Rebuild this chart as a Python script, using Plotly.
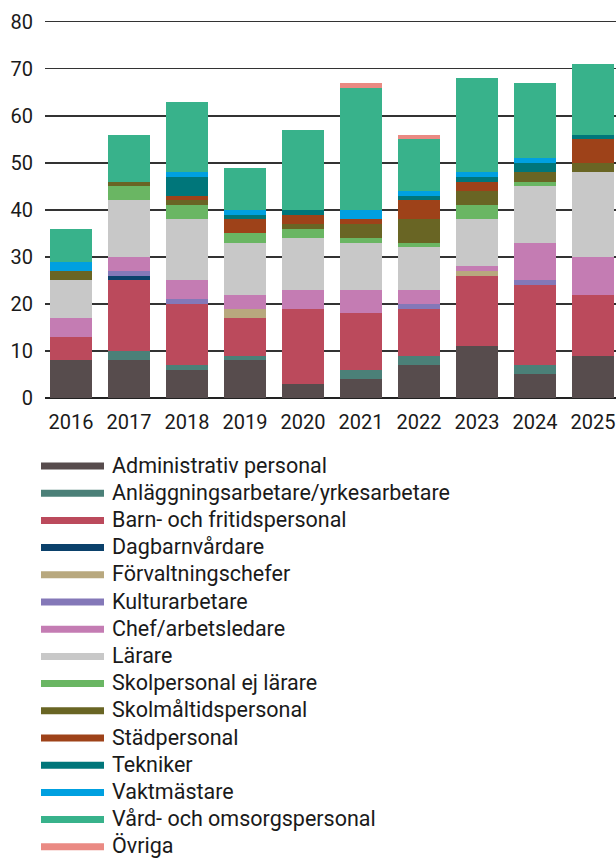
import plotly.graph_objects as go

years = ["2016", "2017", "2018", "2019", "2020", "2021", "2022", "2023", "2024", "2025"]

series_names = [
    "Administrativ personal",
    "Anläggningsarbetare/yrkesarbetare",
    "Barn- och fritidspersonal",
    "Dagbarnvårdare",
    "Förvaltningschefer",
    "Kulturarbetare",
    "Chef/arbetsledare",
    "Lärare",
    "Skolpersonal ej lärare",
    "Skolmåltidspersonal",
    "Städpersonal",
    "Tekniker",
    "Vaktmästare",
    "Vård- och omsorgspersonal",
    "Övriga",
]

administrativ = [8, 8, 6, 8, 3, 4, 7, 11, 5, 9]
anlaggning    = [0, 2, 1, 1, 0, 2, 2, 0, 2, 0]
barn_fritid   = [5, 15, 13, 8, 16, 12, 10, 15, 17, 13]
dagbarn       = [0, 1, 0, 0, 0, 0, 0, 0, 0, 0]
forvaltning   = [0, 0, 0, 2, 0, 0, 0, 1, 0, 0]
kultur        = [0, 1, 1, 0, 0, 0, 1, 0, 1, 0]
chef          = [4, 3, 4, 3, 4, 5, 3, 1, 8, 8]
larare        = [8, 12, 13, 11, 11, 10, 9, 10, 12, 18]
skolpersonal  = [0, 3, 3, 2, 2, 1, 1, 3, 1, 0]
skolmaltid    = [2, 1, 1, 0, 1, 3, 5, 3, 2, 2]
stad          = [0, 0, 1, 3, 2, 1, 4, 2, 0, 5]
tekniker      = [0, 0, 4, 1, 1, 0, 1, 1, 2, 1]
vaktmastare   = [2, 0, 1, 1, 0, 2, 1, 1, 1, 0]
vard_omsorg   = [7, 10, 15, 9, 17, 26, 11, 20, 16, 15]
ovriga        = [0, 0, 0, 0, 0, 1, 1, 0, 0, 0]

series_values = [administrativ, anlaggning, barn_fritid, dagbarn, forvaltning, kultur, chef,
                 larare, skolpersonal, skolmaltid, stad, tekniker, vaktmastare, vard_omsorg, ovriga]

colors = ["#574c4d", "#4b8078", "#bb4a5c", "#0b416b", "#b8a87e", "#8478b8", "#c47cb3",
          "#c8c8c8", "#6ab663", "#696524", "#9e4219", "#00767a", "#00a0e0", "#38b28b", "#ea8a83"]

y_ticks = [0, 10, 20, 30, 40, 50, 60, 70, 80]

FONT = "Roboto, 'Noto Sans', sans-serif"
TXT = "#1a1a1a"

fig = go.Figure()
for name, vals, col in zip(series_names, series_values, colors):
    fig.add_trace(go.Bar(x=years, y=vals, name=name, marker=dict(color=col, line=dict(width=0)),
                         showlegend=False, hoverinfo="skip"))

W, H = 616, 859
ML, MT, MB = 45, 17, 461
plot_w = W - ML
plot_h = H - MT - MB

def px_to_py(p):
    return (H - MB - p) / plot_h

def px_to_px(p):
    return (p - ML) / plot_w

shapes = []
annotations = []
for i, (name, col) in enumerate(zip(series_names, colors)):
    yc = 466 + 27.2 * i
    shapes.append(dict(type="line", xref="paper", yref="paper",
                       x0=px_to_px(41), x1=px_to_px(104), y0=px_to_py(yc), y1=px_to_py(yc),
                       line=dict(color=col, width=7)))
    annotations.append(dict(text=name, xref="paper", yref="paper", x=px_to_px(110),
                            y=px_to_py(yc - 1), xanchor="left", yanchor="middle", showarrow=False,
                            font=dict(family=FONT, size=21.5, color=TXT)))

fig.update_layout(
    width=W, height=H,
    margin=dict(l=ML, r=0, t=MT, b=MB, pad=0),
    barmode="stack",
    bargap=0.276,
    plot_bgcolor="white",
    paper_bgcolor="white",
    font=dict(family=FONT, size=20, color=TXT),
    shapes=shapes,
    annotations=annotations,
    hovermode=False,
    xaxis=dict(range=[-0.448, 9.397], showgrid=False, showline=False, ticks="",
               tickfont=dict(size=20, color=TXT), ticklabelstandoff=10),
    yaxis=dict(range=[0, 81], tickvals=y_ticks, showgrid=True, gridcolor="#333333", gridwidth=1.5,
               zeroline=True, zerolinecolor="#222222", zerolinewidth=2, showline=False, ticks="",
               tickfont=dict(size=20, color=TXT), ticklabelstandoff=11),
)

fig.write_html("out.html", config={"displayModeBar": False, "staticPlot": True},
               post_script="document.body.style.margin='0';document.body.style.overflow='hidden';")
